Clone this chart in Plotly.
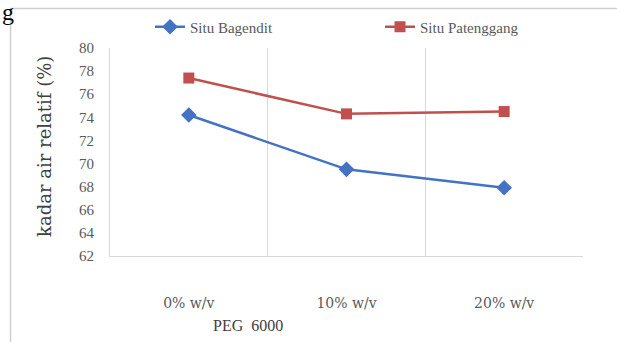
import plotly.graph_objects as go

categories = ["0% w/v", "10% w/v", "20% w/v"]
situ_bagendit = [74.2, 69.5, 67.9]
situ_patenggang = [77.4, 74.3, 74.5]
y_ticks = [62, 64, 66, 68, 70, 72, 74, 76, 78, 80]

W, H = 617, 342
L, R, T, B = 110, 34, 48, 86
pw, ph = W - L - R, H - T - B

def px(x):
    return (x - L) / pw

def py(y):
    return (H - B - y) / ph

xs = list(range(len(categories)))
serif = "Liberation Serif, Times New Roman, serif"
wide_serif = "DejaVu Serif, serif"
legfont = dict(family=serif, size=15, color="#595959")

fig = go.Figure()
fig.add_trace(go.Scatter(
    x=xs, y=situ_bagendit, name="Situ Bagendit", mode="lines+markers",
    line=dict(color="#4472C4", width=2.5),
    marker=dict(symbol="diamond", size=12, color="#4472C4"),
    legend="legend",
))
fig.add_trace(go.Scatter(
    x=xs, y=situ_patenggang, name="Situ Patenggang", mode="lines+markers",
    line=dict(color="#C0504D", width=2.5),
    marker=dict(symbol="square", size=11, color="#C0504D"),
    legend="legend2",
))

fig.update_layout(
    width=W, height=H,
    margin=dict(l=L, r=R, t=T, b=B, autoexpand=False),
    paper_bgcolor="white", plot_bgcolor="white",
    font=dict(family=serif, color="#595959", size=14),
    legend=dict(
        orientation="h", x=px(150), y=py(27), xanchor="left", yanchor="middle",
        font=legfont, bgcolor="rgba(0,0,0,0)", itemwidth=30,
    ),
    legend2=dict(
        orientation="h", x=px(380), y=py(27), xanchor="left", yanchor="middle",
        font=legfont, bgcolor="rgba(0,0,0,0)", itemwidth=30,
    ),
    xaxis=dict(
        range=[-0.5, 2.5], tickvals=xs, ticktext=categories,
        showgrid=False, zeroline=False, automargin=False,
        showline=True, linecolor="#d9d9d9", linewidth=1,
        ticks="", ticklabelstandoff=34,
        tickfont=dict(family=wide_serif, size=14, color="#595959"),
        minor=dict(tick0=-0.5, dtick=1, showgrid=True, gridcolor="#d9d9d9", gridwidth=1),
        fixedrange=True,
    ),
    yaxis=dict(
        range=[62, 80], tickvals=y_ticks, ticktext=[str(v) for v in y_ticks],
        showgrid=False, zeroline=False, automargin=False,
        showline=True, linecolor="#d9d9d9", linewidth=1,
        ticks="", ticklabelstandoff=12,
        tickfont=dict(family=serif, size=15, color="#595959"),
        fixedrange=True,
    ),
    showlegend=True,
)

frame = dict(color="#cfcfcf", width=1.5)
fig.add_shape(type="line", xref="paper", yref="paper",
              x0=px(10), x1=px(617), y0=py(8.5), y1=py(8.5), line=frame)
fig.add_shape(type="line", xref="paper", yref="paper",
              x0=px(10.5), x1=px(10.5), y0=py(8), y1=py(342), line=frame)

fig.add_annotation(text="kadar air relatif (%)", xref="paper", yref="paper",
                   x=px(44), y=py(147), textangle=-90, showarrow=False,
                   xanchor="center", yanchor="middle",
                   font=dict(family=wide_serif, size=18, color="#404040"))
fig.add_annotation(text="PEG  6000", xref="paper", yref="paper",
                   x=px(248), y=py(325), showarrow=False,
                   xanchor="center", yanchor="middle",
                   font=dict(family=serif, size=16, color="#404040"))
fig.add_annotation(text="g", xref="paper", yref="paper",
                   x=px(0), y=py(12), xanchor="left", yanchor="middle", showarrow=False,
                   font=dict(family=serif, size=24, color="#000000"))

fig.write_html("out.html", config={"displayModeBar": False},
               post_script="document.body.style.margin='0';document.body.style.padding='0';")
